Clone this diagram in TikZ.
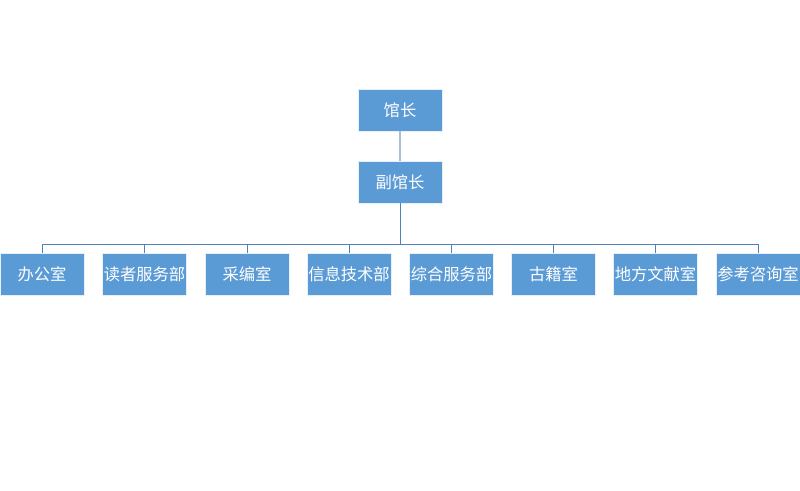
\documentclass[tikz,border=0pt]{standalone}
\usepackage{fontspec}
\newfontfamily\cjk{Noto Sans CJK SC}
\definecolor{boxfill}{HTML}{5B9BD5}
\definecolor{linecol}{HTML}{4F81BD}
\definecolor{linelight}{HTML}{A9C0DA}
\begin{document}
\begin{tikzpicture}[x=1pt,y=-1pt,
  orgbox/.style={draw=white!85!boxfill,line width=0.8pt,fill=boxfill,text=white,minimum width=84pt,minimum height=42pt,inner sep=0pt,font=\cjk\fontsize{16.3}{18}\selectfont},
  conn/.style={draw=linecol,line width=1pt},
  connlight/.style={draw=linelight,line width=1.2pt}]
\useasboundingbox (0,0) rectangle (800,490);
\node[orgbox] (a) at (400,110) {馆长};
\node[orgbox] (b) at (400,182) {副馆长};
\node[orgbox] (c1) at (42,274.5) {办公室};
\node[orgbox] (c2) at (144.5,274.5) {读者服务部};
\node[orgbox] (c3) at (247,274.5) {采编室};
\node[orgbox] (c4) at (349,274.5) {信息技术部};
\node[orgbox] (c5) at (451.5,274.5) {综合服务部};
\node[orgbox] (c6) at (553.5,274.5) {古籍室};
\node[orgbox] (c7) at (655.5,274.5) {地方文献室};
\node[orgbox] (c8) at (758,274.5) {参考咨询室};
\draw[connlight] (a.south) -- (b.north);
\coordinate (bar) at (400,244);
\draw[conn] (b.south) -- (bar);
\foreach \i in {1,...,8}{
  \draw[conn] (bar) -| (c\i.north);
}
\end{tikzpicture}
\end{document}
